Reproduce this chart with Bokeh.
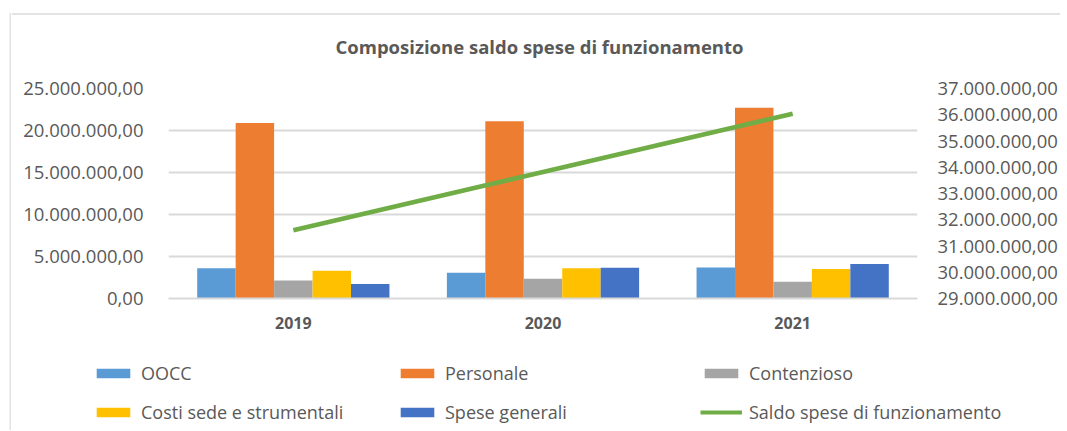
from bokeh.plotting import figure
from bokeh.layouts import column, row
from bokeh.models import (Range1d, LinearAxis, FixedTicker, CustomJSTickFormatter,
                          Legend, LegendItem, FactorRange, BoxAnnotation, Label)
from bokeh.transform import dodge
from bokeh.embed import file_html
from bokeh.resources import INLINE

years = ["2019", "2020", "2021"]
oocc = [3.59e6, 3.07e6, 3.70e6]
personale = [20.88e6, 21.10e6, 22.70e6]
contenzioso = [2.15e6, 2.35e6, 1.99e6]
costi_sede = [3.30e6, 3.60e6, 3.50e6]
spese_generali = [1.72e6, 3.65e6, 4.12e6]
saldo = [31.6e6, 33.82e6, 36.04e6]

series_names = ["OOCC", "Personale", "Contenzioso", "Costi sede e strumentali", "Spese generali"]
series_values = [oocc, personale, contenzioso, costi_sede, spese_generali]
series_colors = ["#5B9BD5", "#ED7D31", "#A5A5A5", "#FFC000", "#4472C4"]
line_name = "Saldo spese di funzionamento"
line_color = "#70AD47"
title_text = "Composizione saldo spese di funzionamento"

left_ticks = [0, 5e6, 10e6, 15e6, 20e6, 25e6]
right_ticks = [29e6 + i * 1e6 for i in range(9)]

FONT = "Open Sans"
TXT = "#595959"
FRAME_COL = "#E3E3E3"
W = 1049


def strip(width, height):
    f = figure(width=width, height=height, x_range=Range1d(0, width), y_range=Range1d(0, height),
               output_backend="svg", toolbar_location=None,
               min_border_left=0, min_border_right=0, min_border_top=0, min_border_bottom=0,
               x_axis_type=None, y_axis_type=None)
    f.outline_line_color = None
    f.xgrid.visible = False
    f.ygrid.visible = False
    f.border_fill_color = "white"
    f.background_fill_color = "white"
    f.frame_align = False
    return f


# left edge of the chart box
side = strip(11, 430)
side.add_layout(BoxAnnotation(left=9, right=11, bottom=0, top=430 - 12.5,
                              fill_color=FRAME_COL, fill_alpha=1, line_color=None))

# header: top edge of the chart box + title
head = strip(W, 60)
head.add_layout(BoxAnnotation(left=0, right=W, bottom=60 - 14.5, top=60 - 12.5,
                              fill_color=FRAME_COL, fill_alpha=1, line_color=None))
head.add_layout(Label(x=324, y=14, text=title_text, text_font=FONT, text_font_size="18.5px",
                      text_font_style="bold", text_color=TXT, text_baseline="middle"))

p = figure(width=W, height=285, x_range=FactorRange(*years),
           y_range=Range1d(0, 25e6), output_backend="svg", toolbar_location=None,
           min_border_left=157, min_border_right=140, min_border_top=28, min_border_bottom=47)
p.outline_line_color = None
p.background_fill_color = "white"
p.border_fill_color = "white"
p.frame_align = False

p.extra_y_ranges = {"right": Range1d(29e6, 37e6)}

fmt = CustomJSTickFormatter(code="""
const s = tick.toFixed(2);
let [i, d] = s.split('.');
i = i.replace(/\\B(?=(\\d{3})+(?!\\d))/g, '.');
return i + ',' + d;
""")

src = {"years": years}
for n, v in zip(series_names, series_values):
    src[n] = v
src["saldo"] = saldo

bw = 0.154
offsets = [-2 * bw, -bw, 0, bw, 2 * bw]
for n, c, off in zip(series_names, series_colors, offsets):
    p.vbar(x=dodge("years", off, range=p.x_range), top=n, width=bw, source=src,
           fill_color=c, line_color=None)

p.line(x="years", y="saldo", source=src, y_range_name="right",
       line_color=line_color, line_width=4.5)

yax = p.yaxis[0]
yax.ticker = FixedTicker(ticks=left_ticks)
yax.formatter = fmt
yax.axis_line_color = None
yax.major_tick_line_color = None
yax.minor_tick_line_color = None
yax.major_label_text_font = FONT
yax.major_label_text_font_size = "18.5px"
yax.major_label_text_color = TXT
yax.major_label_standoff = 19

rax = LinearAxis(y_range_name="right", ticker=FixedTicker(ticks=right_ticks), formatter=fmt)
rax.axis_line_color = None
rax.major_tick_line_color = None
rax.minor_tick_line_color = None
rax.major_label_text_font = FONT
rax.major_label_text_font_size = "18.5px"
rax.major_label_text_color = TXT
rax.major_label_standoff = 14
p.add_layout(rax, "right")

xax = p.xaxis[0]
xax.axis_line_color = "#D9D9D9"
xax.axis_line_width = 2
xax.major_tick_line_color = None
xax.minor_tick_line_color = None
xax.major_label_text_font = FONT
xax.major_label_text_font_size = "16px"
xax.major_label_text_font_style = "bold"
xax.major_label_text_color = TXT
xax.major_label_standoff = 12

p.xgrid.grid_line_color = None
p.ygrid.ticker = FixedTicker(ticks=left_ticks)
p.ygrid.grid_line_color = "#D9D9D9"
p.ygrid.grid_line_width = 2

# legend strip below the chart
lg = strip(W, 85)
entries = {}
for n, c in zip(series_names, series_colors):
    r = lg.vbar(x=[0.5], top=[0], bottom=[0], width=0.0, fill_color=c, line_color=None)
    entries[n] = LegendItem(label=n, renderers=[r])
rl = lg.line(x=[0.5], y=[0.5], line_color=line_color, line_width=4)
entries[line_name] = LegendItem(label=line_name, renderers=[rl])

# legend fills column by column: order so rows read as in the reference
order = ["OOCC", "Costi sede e strumentali", "Personale", "Spese generali",
         "Contenzioso", line_name]
legend = Legend(items=[entries[k] for k in order], ncols=3, location=(81, 6))
legend.padding = 0
legend.margin = 0
legend.border_line_color = None
legend.background_fill_alpha = 0
legend.glyph_width = 42
legend.glyph_height = 12
legend.label_height = 20
legend.label_width = 240
legend.label_standoff = 7
legend.spacing = 15
legend.label_text_font = FONT
legend.label_text_font_size = "18px"
legend.label_text_color = TXT
lg.add_layout(legend)

layout = row(side, column(head, p, lg, spacing=0), spacing=0)
open("out.html", "w").write(file_html(layout, INLINE))
